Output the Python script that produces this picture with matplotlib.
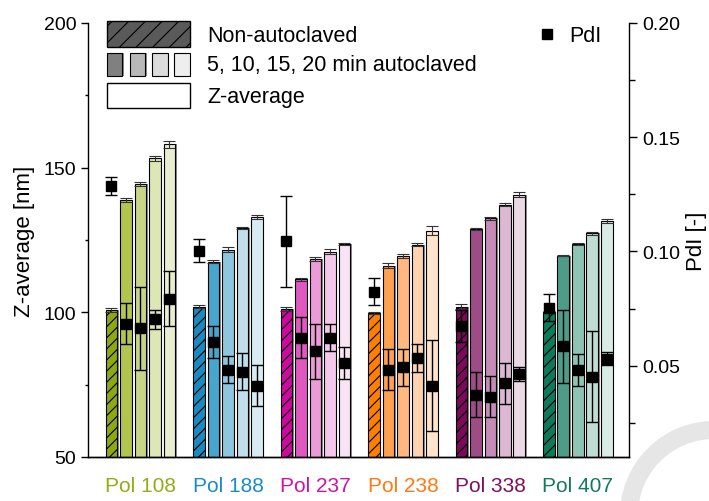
import numpy as np
import matplotlib.pyplot as plt
from matplotlib.patches import Rectangle, Arc

plt.rcParams['font.family'] = ['Liberation Sans', 'DejaVu Sans']
plt.rcParams['hatch.linewidth'] = 0.8

# polymer groups, bars: non-autoclaved, 5, 10, 15, 20 min autoclaved
groups = ["Pol 108", "Pol 188", "Pol 237", "Pol 238", "Pol 338", "Pol 407"]
label_colors = ["#94ac18", "#1a8cc4", "#cf12a6", "#ff7a12", "#7c0f60", "#137a5c"]

zavg = [
    [100.8, 138.8, 144.4, 153.2, 158.1],
    [102.0, 117.5, 121.7, 129.2, 133.0],
    [101.2, 111.5, 118.4, 121.0, 123.6],
    [99.8, 116.1, 119.4, 123.4, 128.2],
    [102.0, 128.8, 132.5, 137.2, 140.7],
    [100.1, 119.6, 123.6, 127.4, 131.6],
]
zavg_err = [
    [0.6, 0.8, 0.6, 1.0, 1.2],
    [0.4, 0.6, 1.0, 0.4, 0.8],
    [0.8, 0.5, 0.8, 0.8, 0.4],
    [0.4, 0.8, 0.6, 0.4, 1.5],
    [0.8, 0.5, 0.6, 0.6, 1.0],
    [0.3, 0.3, 0.5, 0.5, 0.8],
]
pdi = [
    [0.1286, 0.0683, 0.0663, 0.0702, 0.0793],
    [0.1004, 0.0603, 0.0483, 0.0474, 0.0413],
    [0.1044, 0.0623, 0.0562, 0.0623, 0.0512],
    [0.0824, 0.0483, 0.0492, 0.0533, 0.0413],
    [0.0675, 0.0373, 0.0363, 0.0423, 0.0463],
    [0.0754, 0.0584, 0.0483, 0.0452, 0.0531],
]
pdi_err = [
    [0.004, 0.009, 0.018, 0.004, 0.012],
    [0.005, 0.007, 0.006, 0.008, 0.009],
    [0.020, 0.009, 0.012, 0.006, 0.007],
    [0.006, 0.009, 0.008, 0.006, 0.020],
    [0.007, 0.010, 0.009, 0.009, 0.003],
    [0.006, 0.016, 0.007, 0.020, 0.003],
]
bar_colors = [
    ["#8fa80f", "#b3c44f", "#c8d486", "#dde6b5", "#e8edcf"],
    ["#1a8ac0", "#48a5cc", "#8ec6dd", "#c0dfeb", "#d9ebf2"],
    ["#cc0aa0", "#de58bf", "#ea9bd8", "#f3c8ea", "#f9e4f4"],
    ["#ff7f00", "#ff9f50", "#ffb880", "#ffd2b0", "#ffe4cc"],
    ["#7a0a5a", "#9e4c86", "#c48bb6", "#dcb8d2", "#ead8e4"],
    ["#0e7a5a", "#4e9c88", "#8ec4b4", "#c0ddd4", "#d8ebe5"],
]

W, H = 709, 502
fig = plt.figure(figsize=(W / 100, H / 100), dpi=100)

# faint ring in the lower right corner (display pixels, y up)
ring = Arc((714, -14), 170, 170, theta1=85, theta2=200, transform=None,
           color="#e6e6e6", linewidth=13, zorder=0)
fig.patches.append(ring)

ax = fig.add_axes([88 / W, 44 / H, 541 / W, 434 / H])
ax2 = ax.twinx()

step = 0.1657
width = 0.134
offsets = (np.arange(5) - 2) * step

for g in range(len(groups)):
    for k in range(5):
        x = g + offsets[k]
        # gray shadow on the right side of each bar
        ax.bar(x + 0.017, zavg[g][k] - 50, width, bottom=50, color="#8a8a8a",
               edgecolor="none", zorder=1)
        ax.bar(x, zavg[g][k] - 50, width, bottom=50, color=bar_colors[g][k],
               edgecolor="black", linewidth=0.8, hatch="///" if k == 0 else None,
               zorder=2)
        ax.errorbar(x, zavg[g][k], yerr=zavg_err[g][k], color="#333333",
                    capsize=4, elinewidth=0.8, capthick=0.8, zorder=3)
        ax2.errorbar(x, pdi[g][k], yerr=pdi_err[g][k], fmt="s", color="black",
                     markersize=7.5, capsize=4, elinewidth=1, capthick=1, zorder=4)

ax.set_xlim(-0.6, 5.585)
ax.set_ylim(50, 200)
ax2.set_ylim(0.01, 0.20)

ax.set_yticks([50, 100, 150, 200])
ax.set_yticks([75, 125, 175], minor=True)
ax2.set_yticks([0.05, 0.10, 0.15, 0.20])
ax2.set_yticklabels(["0.05", "0.10", "0.15", "0.20"])
ax2.set_yticks([0.025, 0.075, 0.125, 0.175], minor=True)

ax.set_xticks(range(len(groups)))
ax.set_xticklabels(groups, fontsize=15)
for lbl, c in zip(ax.get_xticklabels(), label_colors):
    lbl.set_color(c)
ax.tick_params(axis="x", length=0, pad=14)

for a in (ax, ax2):
    a.spines["top"].set_visible(False)
    for s in a.spines.values():
        s.set_linewidth(1.0)
ax.spines["right"].set_visible(False)
ax2.spines["left"].set_visible(False)
ax.tick_params(axis="y", which="major", length=5, width=1, labelsize=14)
ax.tick_params(axis="y", which="minor", length=2.5, width=1)
ax2.tick_params(axis="y", which="major", length=6, width=1, labelsize=14)
ax2.tick_params(axis="y", which="minor", length=4, width=1)

ax.set_ylabel("Z-average [nm]", fontsize=16, labelpad=6)
ax2.set_ylabel("PdI [-]", fontsize=16, labelpad=4)


def fx(x):
    return x / W


def fy(y):
    return 1 - y / H


# legend drawn by hand in figure pixels
fig.patches.append(Rectangle((fx(107), fy(48)), 83 / W, 26 / H, transform=fig.transFigure,
                             facecolor="#5a5a5a", edgecolor="black", hatch="//",
                             linewidth=1, zorder=5))
for x0, c in zip([107, 129.5, 152, 174], ["#808080", "#b8b8b8", "#dcdcdc", "#eeeeee"]):
    fig.patches.append(Rectangle((fx(x0 + 1.5), fy(77)), 15.5 / W, 23.5 / H,
                                 transform=fig.transFigure, facecolor="#8a8a8a",
                                 edgecolor="none", zorder=5))
    fig.patches.append(Rectangle((fx(x0), fy(77)), 15.5 / W, 23.5 / H,
                                 transform=fig.transFigure, facecolor=c,
                                 edgecolor="black", linewidth=0.8, zorder=6))
fig.patches.append(Rectangle((fx(107), fy(109)), 83 / W, 25 / H, transform=fig.transFigure,
                             facecolor="white", edgecolor="black", linewidth=1, zorder=5))
fig.text(fx(207), fy(37), "Non-autoclaved", fontsize=15.5, va="center")
fig.text(fx(207), fy(66), "5, 10, 15, 20 min autoclaved", fontsize=15.5, va="center")
fig.text(fx(207), fy(98), "Z-average", fontsize=15.5, va="center")
fig.lines.append(plt.Line2D([fx(547)], [fy(35)], marker="s", color="black",
                            markersize=7.5, transform=fig.transFigure))
fig.text(fx(569), fy(36), "PdI", fontsize=15.5, va="center")

fig.savefig("out.png", dpi=100)
